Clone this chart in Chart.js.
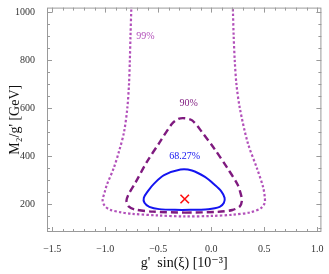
<!DOCTYPE html>
<html>
<head>
<meta charset="utf-8">
<script src="https://cdn.jsdelivr.net/npm/chart.js@4/dist/chart.umd.min.js"></script>
<style>
  html, body { margin: 0; padding: 0; background: #fff; }
  #chart { display: block; }
</style>
</head>
<body>
<canvas id="chart" width="329" height="274"></canvas>
<script>
// 99% contour (open at the top)
const cl99x = [-0.752, -0.754, -0.762, -0.768, -0.776, -0.792, -0.823, -0.87, -0.92, -0.985, -1.005, -1.025, -1.005, -0.955, -0.85, -0.75, -0.5, -0.25, 0.0, 0.2, 0.37, 0.47, 0.505, 0.505, 0.49, 0.435, 0.345, 0.27, 0.238, 0.222, 0.212, 0.204, 0.202];
const cl99y = [1050, 1020, 900, 800, 700, 600, 500, 420, 350, 280, 250, 215, 192, 176, 165, 159, 152, 148, 150, 155, 165, 183, 205, 230, 270, 345, 455, 600, 700, 800, 900, 1020, 1050];

// 90% contour
const cl90x = [-0.25, 0.06, 0.20, 0.27, 0.29, 0.28, 0.25, 0.157, 0.034, -0.09, -0.18, -0.25, -0.31, -0.37, -0.49, -0.61, -0.71, -0.78, -0.80, -0.78, -0.72, -0.55, -0.25];
const cl90y = [164, 167, 175, 190, 215, 240, 280, 347, 428, 502, 549, 558, 555, 535, 455, 374, 293, 240, 213, 190, 177, 168, 164];

// 68.27% contour
const cl68x = [-0.275, -0.028, 0.080, 0.120, 0.126, 0.095, 0.034, -0.059, -0.182, -0.290, -0.445, -0.537, -0.599, -0.636, -0.630, -0.584, -0.491, -0.275];
const cl68y = [174.5, 178.5, 188, 205, 226, 253, 279.5, 313, 340, 344, 320, 286, 253, 226, 205, 188, 178.5, 174.5];

// best fit point
const bestX = [-0.25];
const bestY = [221];

// contour labels
const labelText = ['99%', '90%', '68.27%'];
const labelX = [-0.62, -0.213, -0.25];
const labelY = [899, 620, 399];

const col99 = '#b250ba';
const col90 = '#7f1a7f';
const col68 = '#1414f0';
const labelColors = [col99, col90, col68];

const pts = (xs, ys) => xs.map((x, i) => ({ x: x, y: ys[i] }));
const serif = '"Liberation Serif", "DejaVu Serif", serif';
const frameColor = '#9a9a9a';

const frameTicks = {
  id: 'frameTicks',
  afterDraw(chart) {
    const { ctx, chartArea: a, scales } = chart;
    const sx = scales.x, sy = scales.y;
    ctx.save();
    ctx.strokeStyle = frameColor;
    ctx.lineWidth = 1;
    ctx.strokeRect(a.left + 0.5, a.top + 0.5, a.right - a.left - 1, a.bottom - a.top - 1);
    ctx.beginPath();
    sx.ticks.forEach(t => {
      const p = Math.round(sx.getPixelForValue(t.value)) + 0.5;
      const major = Math.abs(t.value * 2 - Math.round(t.value * 2)) < 1e-6;
      const len = major ? 5 : 3;
      ctx.moveTo(p, a.bottom); ctx.lineTo(p, a.bottom - len);
      ctx.moveTo(p, a.top); ctx.lineTo(p, a.top + len);
    });
    sy.ticks.forEach(t => {
      const p = Math.round(sy.getPixelForValue(t.value)) + 0.5;
      const major = t.value % 200 === 0;
      const len = major ? 5 : 3;
      ctx.moveTo(a.left, p); ctx.lineTo(a.left + len, p);
      ctx.moveTo(a.right, p); ctx.lineTo(a.right - len, p);
    });
    ctx.stroke();
    ctx.restore();
  },
  afterDatasetsDraw(chart) {
    const { ctx, scales } = chart;
    ctx.save();
    ctx.font = '10px ' + serif;
    ctx.textAlign = 'center';
    ctx.textBaseline = 'middle';
    labelText.forEach((txt, i) => {
      ctx.fillStyle = labelColors[i];
      ctx.fillText(txt, scales.x.getPixelForValue(labelX[i]), scales.y.getPixelForValue(labelY[i]));
    });
    ctx.restore();
  }
};

new Chart(document.getElementById('chart'), {
  type: 'scatter',
  data: {
    datasets: [
      { label: '99%', data: pts(cl99x, cl99y), showLine: true, borderColor: col99, borderWidth: 2.2,
        borderDash: [2.4, 2.2], pointRadius: 0, tension: 0.3, fill: false },
      { label: '90%', data: pts(cl90x, cl90y), showLine: true, borderColor: col90, borderWidth: 2.4,
        borderDash: [7, 4], pointRadius: 0, tension: 0.3, fill: false },
      { label: '68.27%', data: pts(cl68x, cl68y), showLine: true, borderColor: col68, borderWidth: 2,
        pointRadius: 0, tension: 0.3, fill: false },
      { label: 'best fit', data: pts(bestX, bestY), showLine: false, pointStyle: 'crossRot',
        pointRadius: 6, borderColor: '#ff1010', borderWidth: 1.6 }
    ]
  },
  options: {
    responsive: false,
    animation: false,
    devicePixelRatio: 1,
    layout: { padding: { left: 0, right: 2, top: 0, bottom: 0 } },
    plugins: { legend: { display: false }, tooltip: { enabled: false } },
    elements: { line: { capBezierPoints: false } },
    scales: {
      x: {
        type: 'linear', min: -1.55, max: 1.04,
        grid: { display: false }, border: { display: false },
        ticks: {
          stepSize: 0.1, includeBounds: false, autoSkip: false, maxRotation: 0, padding: 3,
          color: '#333', font: { family: serif, size: 10 },
          callback: v => Math.abs(v * 2 - Math.round(v * 2)) < 1e-6 ? v.toFixed(1).replace('-', '\u2212') : ''
        },
        title: { display: true, text: "g'  sin(\u03BE) [10\u207B\u00B3]", color: '#111',
          font: { family: serif, size: 14 }, padding: { top: 0, bottom: 2 } },
        afterFit: s => { s.height = 42; s.paddingLeft = 0; s.paddingRight = 0; }
      },
      y: {
        type: 'linear', min: 83, max: 1020,
        grid: { display: false }, border: { display: false },
        ticks: {
          stepSize: 50, includeBounds: false, autoSkip: false, padding: 4,
          color: '#333', font: { family: serif, size: 10 },
          callback: v => v % 200 === 0 ? String(v) : ''
        },
        title: { display: true, text: "M\u2082/g' [GeV]", color: '#111',
          font: { family: serif, size: 14 }, padding: { top: 7, bottom: 0 } },
        afterFit: s => { s.width = 47; s.paddingTop = 0; s.paddingBottom = 0; }
      }
    }
  },
  plugins: [frameTicks]
});
</script>
</body>
</html>
